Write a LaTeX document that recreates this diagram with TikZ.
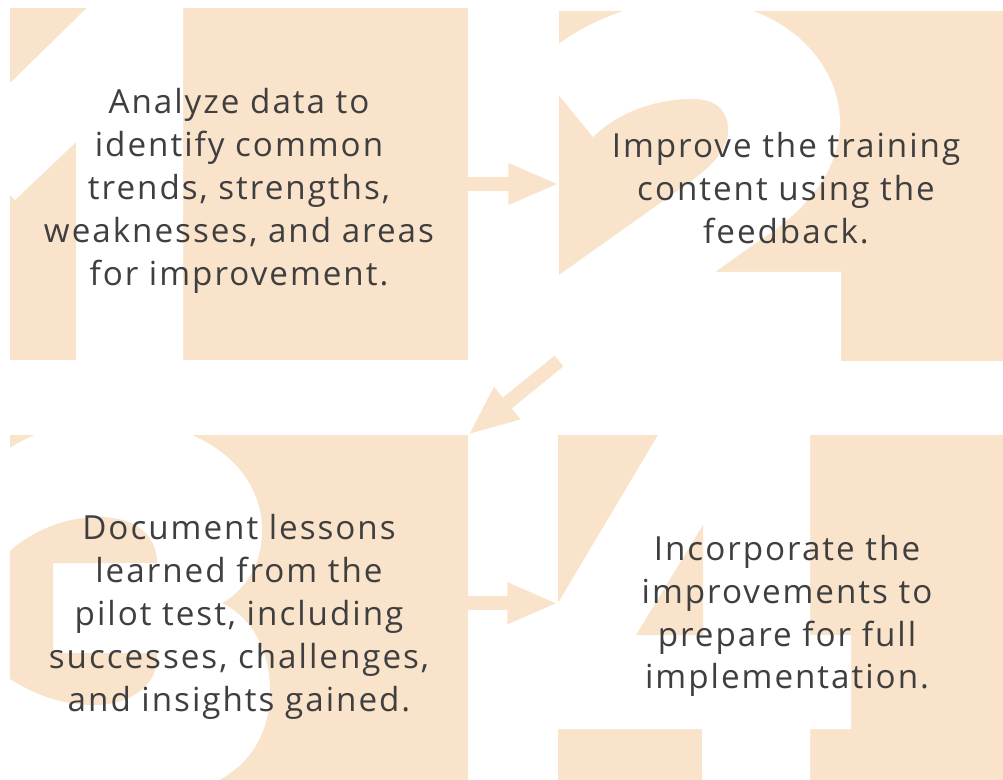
\documentclass[tikz,border=0pt]{standalone}
\usepackage{fontspec}
\setmainfont{Open Sans}[LetterSpace=6]
\usetikzlibrary{arrows.meta}
\definecolor{peach}{HTML}{FAE3CB}
\definecolor{ink}{HTML}{3F3F3F}
\tikzset{
  panel/.style={fill=peach, inner sep=0pt, outer sep=0pt},
  numeral/.style={fill=white},
  counter/.style={fill=peach},
  flow/.style={draw=peach, line width=9.9pt, -{Triangle[length=36pt,width=27pt]}},
  caption/.style={text=ink, align=center, font=\fontsize{23.6}{30.5}\selectfont}
}
\begin{document}
\begin{tikzpicture}[x=0.025cm, y=-0.025cm]
\useasboundingbox (0,0) rectangle (1003,780);

% panels
\node[panel, minimum width=11.45cm, minimum height=8.8cm] (one) at (239,184) {};
\node[panel, minimum width=11.1cm, minimum height=8.75cm] (two) at (781,186) {};
\node[panel, minimum width=11.45cm, minimum height=8.625cm] (three) at (239,607.5) {};
\node[panel, minimum width=11.125cm, minimum height=8.625cm] (four) at (780.5,607.5) {};

% big numerals behind the text
\begin{scope}
  \clip (one.south west) rectangle (one.north east);
  \fill[numeral] (95,0) -- (183,0) -- (183,370) -- (76,370) -- (76,142)
    -- (15,200) -- (0,185) -- (0,93) -- cycle;
\end{scope}
\begin{scope}
  \clip (two.south west) rectangle (two.north east);
  \fill[numeral] (545,55) .. controls (585,20) and (640,0) .. (690,0)
    .. controls (780,0) and (842,60) .. (840,127)
    .. controls (838,175) and (800,215) .. (760,240) -- (715,272)
    -- (841,272) -- (841,375) -- (545,375) -- (545,285) -- (690,182)
    .. controls (718,162) and (730,145) .. (728,125)
    .. controls (725,105) and (710,98) .. (688,99)
    .. controls (650,100) and (615,115) .. (593,137) -- (545,78) -- cycle;
\end{scope}
\begin{scope}
  \clip (three.south west) rectangle (three.north east);
  \fill[numeral] (0,455) .. controls (30,432) and (70,420) .. (112,420)
    .. controls (205,420) and (262,470) .. (262,530)
    .. controls (262,565) and (245,590) .. (222,603)
    .. controls (252,618) and (270,650) .. (270,692)
    .. controls (270,745) and (235,795) .. (150,795) -- (0,795) -- cycle;
  \fill[counter] (0,560) .. controls (30,530) and (65,517) .. (100,517)
    .. controls (135,517) and (157,535) .. (157,563) -- (53,563)
    -- (53,653) -- (157,653) .. controls (160,685) and (130,705) .. (95,705)
    .. controls (55,705) and (25,690) .. (0,672) -- cycle;
\end{scope}
\begin{scope}
  \clip (four.south west) rectangle (four.north east);
  \fill[numeral] (667,420) -- (810,420) -- (810,635) -- (851,635) -- (851,729)
    -- (810,729) -- (810,790) -- (702,790) -- (702,729) -- (545,729)
    -- (545,625) -- cycle;
  \fill[counter] (703,525) -- (636,635) -- (703,635) -- cycle;
\end{scope}

% arrows between the steps
\draw[flow] (one.east) -- (one.east -| two.west);
\draw[flow] (two.south west) -- (three.north east);
\draw[flow] ([yshift=3pt]three.east) -- ([yshift=3pt]three.east -| four.west);

% step texts
\node[caption] (txt1) at (239,191) {Analyze data to\\identify common\\trends, strengths,\\weaknesses, and areas\\for improvement.};
\node[caption] (txt2) at (786,188) {Improve the training\\content using the\\feedback.};
\node[caption] (txt3) at (239,617) {Document lessons\\learned from the\\pilot test, including\\successes, challenges,\\and insights gained.};
\node[caption] (txt4) at (787,616) {Incorporate the\\improvements to\\prepare for full\\implementation.};
\end{tikzpicture}
\end{document}
